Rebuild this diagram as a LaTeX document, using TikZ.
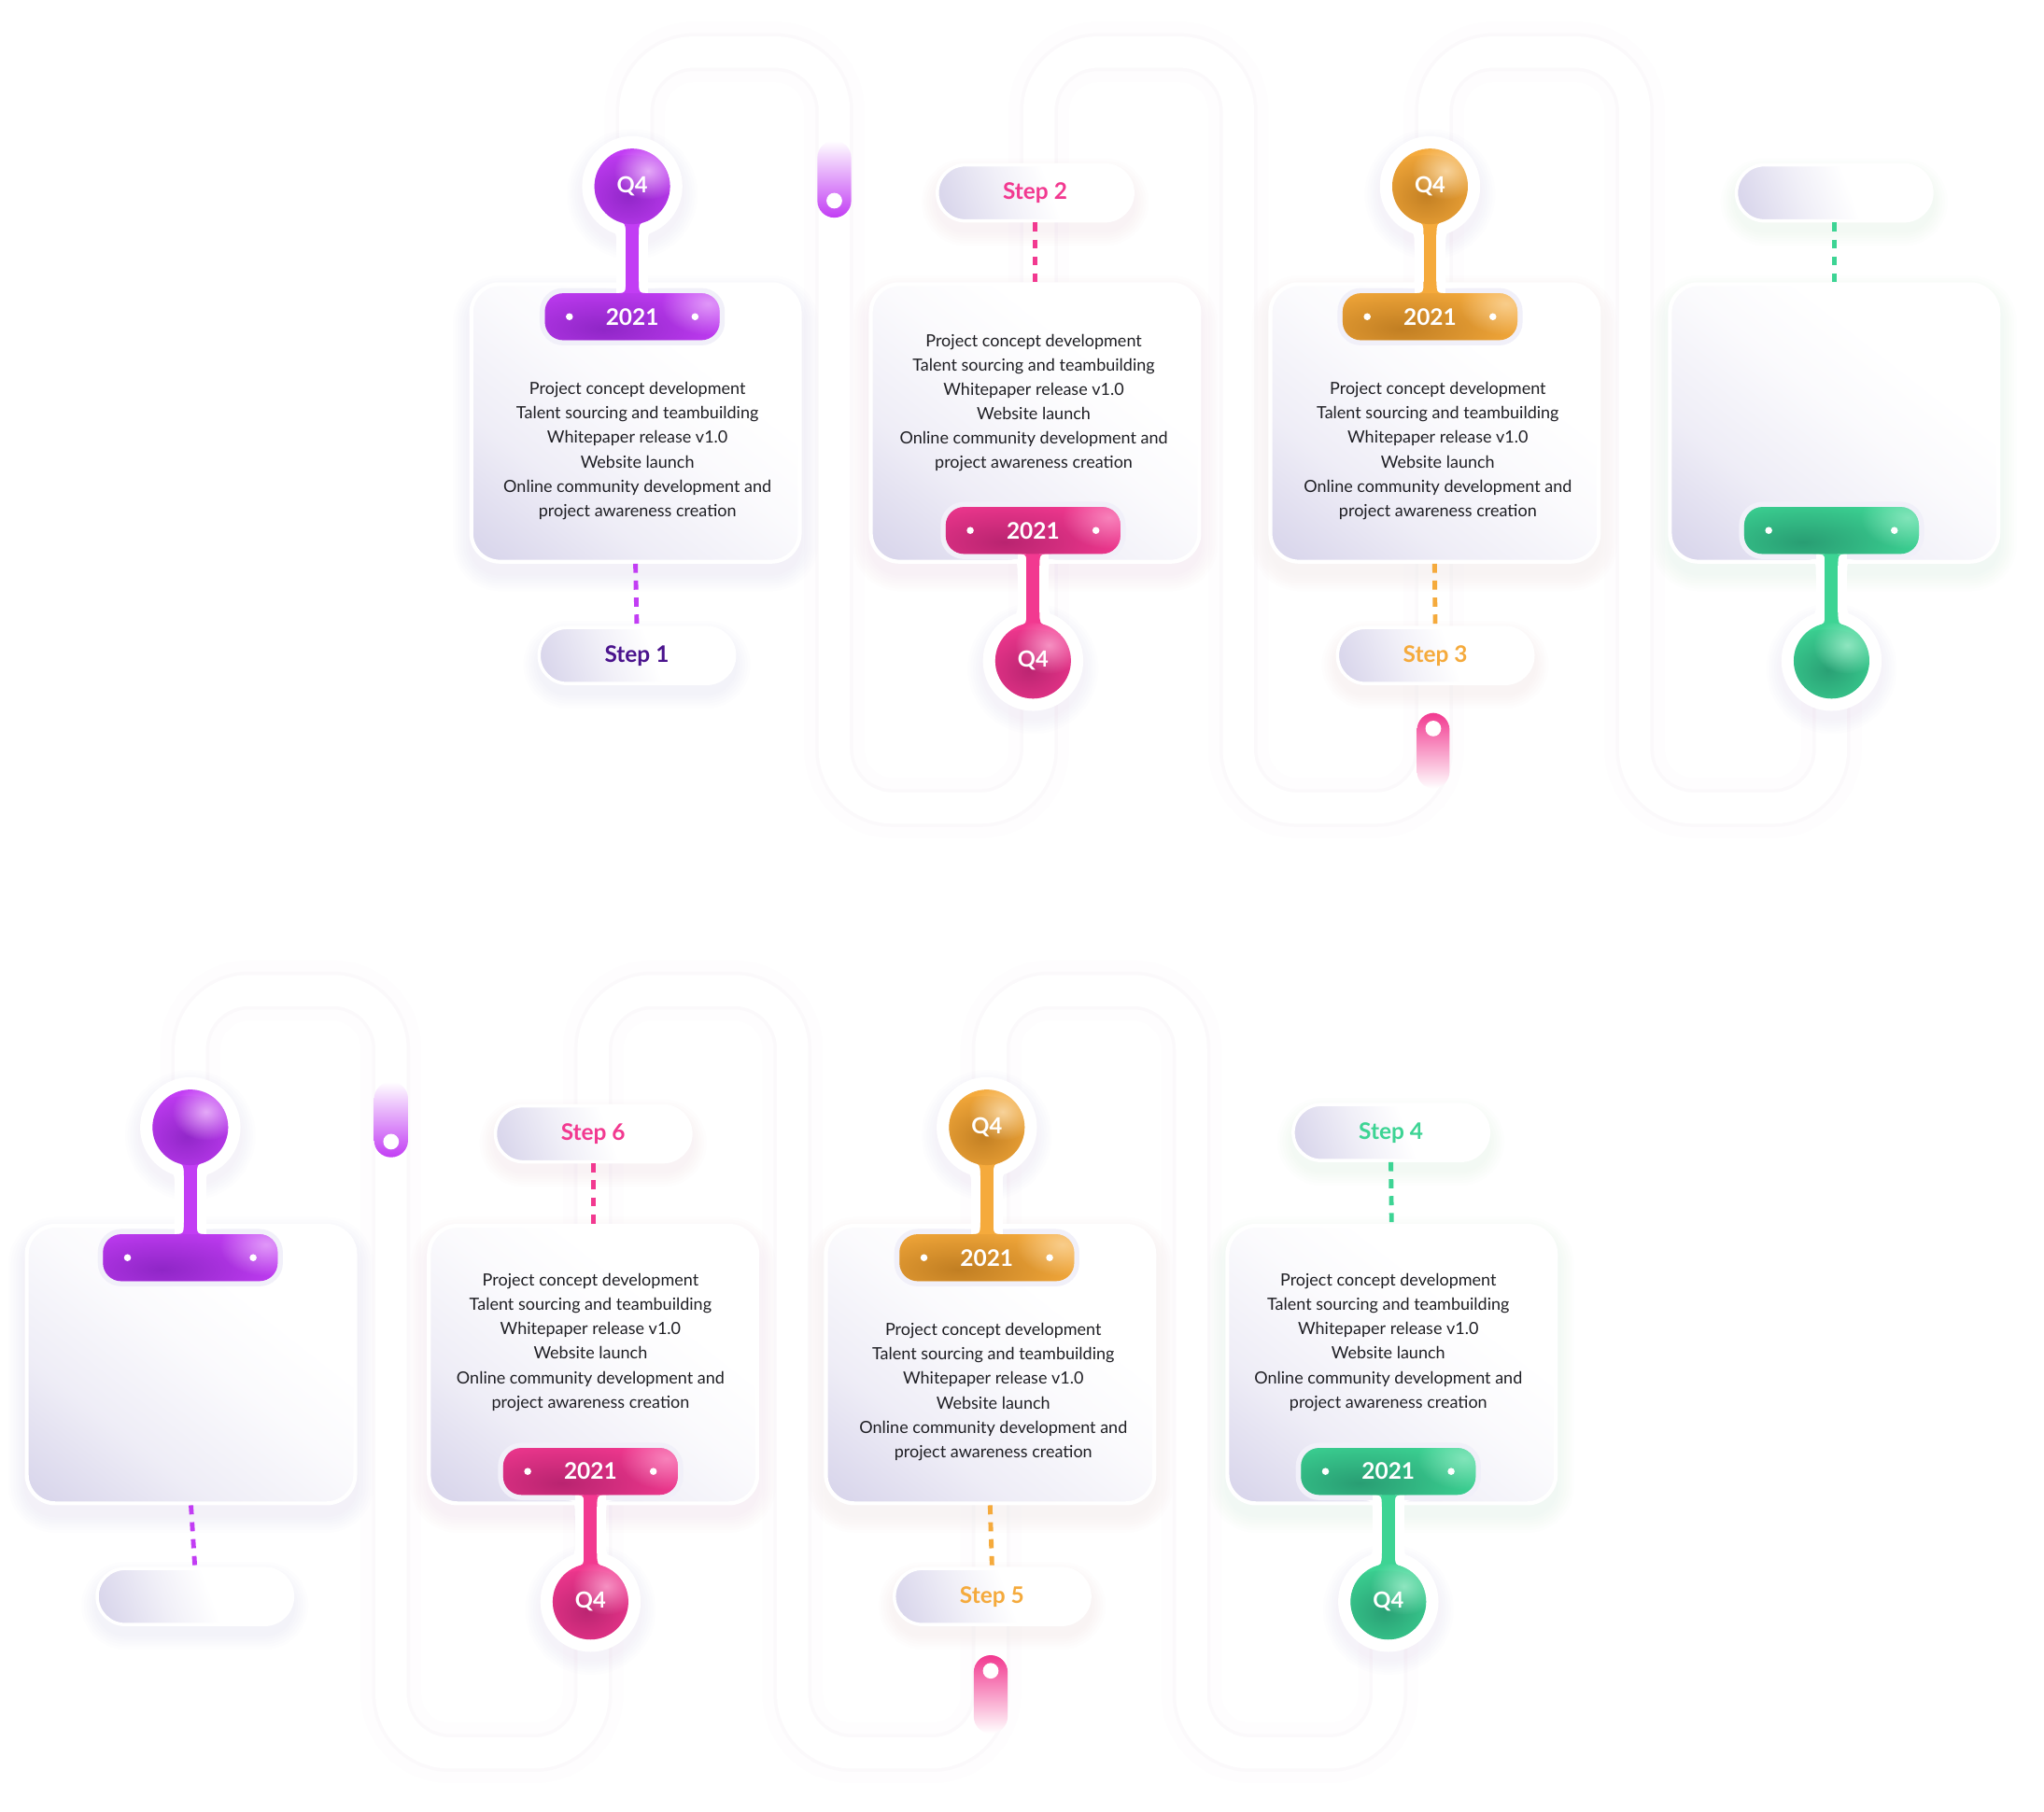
\documentclass[tikz,border=0pt]{standalone}
\usepackage{fontspec}
\setmainfont{Lato}
\usetikzlibrary{calc,fadings}

% palette
\definecolor{pur}{HTML}{C23DF4}
\definecolor{purD}{HTML}{8A24C2}
\definecolor{purL}{HTML}{EAB6FA}
\definecolor{pnk}{HTML}{F23990}
\definecolor{pnkD}{HTML}{B3226D}
\definecolor{pnkL}{HTML}{F99BC9}
\definecolor{org}{HTML}{F5AA3C}
\definecolor{orgD}{HTML}{BC7A20}
\definecolor{orgL}{HTML}{FAD9A6}
\definecolor{grn}{HTML}{3DD494}
\definecolor{grnD}{HTML}{279870}
\definecolor{grnL}{HTML}{98EAC6}
\definecolor{lav}{HTML}{DAD7EC}
\definecolor{ink}{HTML}{1F1F24}
\definecolor{stepink}{HTML}{4A138D}
\definecolor{halo}{HTML}{F1F0F9}
\definecolor{trackedge}{HTML}{FBF9FB}
\definecolor{trackglow}{HTML}{FEFDFE}
\definecolor{trackfill}{HTML}{FFFFFF}
\definecolor{shPur}{HTML}{D9CCE8}
\definecolor{shPnk}{HTML}{EACFDF}
\definecolor{shOrg}{HTML}{E8DCDC}
\definecolor{shGrn}{HTML}{CDE8DC}

% soft round spot used for the glossy shading of knobs and bars
\tikzfading[name=softspot, inner color=transparent!0, outer color=transparent!100]

% white panels that turn lavender towards the lower left corner
\pgfdeclareverticalshading{panelshade}{100bp}{%
  color(0bp)=(lav); color(18bp)=(lav); color(34bp)=(lav!45!white);
  color(52bp)=(lav!12!white); color(65bp)=(white); color(100bp)=(white)}
\pgfdeclareverticalshading{labelshade}{100bp}{%
  color(0bp)=(lav); color(22bp)=(lav); color(40bp)=(lav!40!white);
  color(55bp)=(white); color(100bp)=(white)}

\newcommand{\roadmaptext}{Project concept development\\Talent sourcing and teambuilding\\Whitepaper release v1.0\\Website launch\\Online community development and\\project awareness creation}

% card with soft shadow: name, x, y, shadow colour
\newcommand{\card}[4]{%
  \foreach \k in {1,...,7}{%
    \fill[#4, opacity=.035, rounded corners=22+2*\k]
      ({#2-126-2*\k},{#3-107-2*\k+8}) rectangle ({#2+126+2*\k},{#3+107+2*\k+8});}
  \node[cardbox] (#1) at (#2,#3) {};}

% step label pill: name, x, y, text colour, text, shadow colour
\newcommand{\steppill}[6]{%
  \foreach \k in {1,...,6}{%
    \fill[#6, opacity=.04, rounded corners=21.5+2*\k]
      ({#2-75-2*\k},{#3-21.5-2*\k+7}) rectangle ({#2+75+2*\k},{#3+21.5+2*\k+7});}
  \node[stepbox, text=#4] (#1) at (#2,#3) {#5};}

% knob + stem + bar: name, x, knob y, direction (1 bar below, -1 bar above),
% main, dark, light, knob text, bar text
\newcommand{\pin}[9]{%
  \colorlet{pinA}{#5}\colorlet{pinB}{#6}\colorlet{pinC}{#7}%
  \coordinate (#1-qc) at (#2,#3);
  \coordinate (#1-yc) at ({#2},{#3+(#4)*100});
  % soft shadow
  \foreach \k in {1,...,6}{%
    \fill[shPur, opacity=.03] ({#2},{#3+6}) circle ({38+2*\k});}
  % white halo
  \fill[white] (#1-qc) circle (38.5);
  \fill[halo, rounded corners=18] ({#2-71},{#3+(#4)*100-22}) rectangle ({#2+71},{#3+(#4)*100+22});
  \fill[white] ({#2-12},{#3}) rectangle ({#2+12},{#3+(#4)*88});
  \fill[white] ({#2-22},{#3+(#4)*31.5}) .. controls ({#2-12},{#3+(#4)*35}) .. ({#2-12},{#3+(#4)*46})
     -- ({#2+12},{#3+(#4)*46}) .. controls ({#2+12},{#3+(#4)*35}) .. ({#2+22},{#3+(#4)*31.5}) -- cycle;
  \fill[white] ({#2-24},{#3+(#4)*78}) .. controls ({#2-12},{#3+(#4)*78}) .. ({#2-12},{#3+(#4)*66})
     -- ({#2+12},{#3+(#4)*66}) .. controls ({#2+12},{#3+(#4)*78}) .. ({#2+24},{#3+(#4)*78}) -- cycle;
  % stem
  \draw[line width=10, #5] (#1-qc) -- (#1-yc);
  \fill[#5] ({#2-12},{#3+(#4)*25.8}) .. controls ({#2-5},{#3+(#4)*28.5}) .. ({#2-5},{#3+(#4)*37})
     -- ({#2+5},{#3+(#4)*37}) .. controls ({#2+5},{#3+(#4)*28.5}) .. ({#2+12},{#3+(#4)*25.8}) -- cycle;
  \fill[#5] ({#2-14},{#3+(#4)*82}) .. controls ({#2-5},{#3+(#4)*82}) .. ({#2-5},{#3+(#4)*73})
     -- ({#2+5},{#3+(#4)*73}) .. controls ({#2+5},{#3+(#4)*82}) .. ({#2+14},{#3+(#4)*82}) -- cycle;
  % knob and bar
  \node[pinknob] (#1-q) at (#1-qc) {#8};
  \node[pinbar] (#1-y) at (#1-yc) {#9};
  \fill[white] ($(#1-y.west)+(19,0)$) circle (2.7);
  \fill[white] ($(#1-y.east)+(-19,0)$) circle (2.7);}

\begin{document}
\begin{tikzpicture}[x=1pt,y=-1pt,
  cardbox/.style={rectangle, rounded corners=22, minimum width=252, minimum height=213,
    inner sep=0, draw=white, line width=3, shade, shading=panelshade, shading angle=-38},
  stepbox/.style={rectangle, rounded corners=21.5, minimum width=150, minimum height=43,
    inner sep=0, draw=white, line width=2.5, shade, shading=labelshade, shading angle=-70,
    font=\bfseries\fontsize{17.5}{20}\selectfont},
  cardtext/.style={align=center, text=ink, inner sep=0, font=\fontsize{12.9}{18.7}\selectfont},
  pinknob/.style={circle, minimum size=58, inner sep=0, fill=pinA, text=white,
    font=\bfseries\fontsize{17}{18}\selectfont,
    path picture={
      \fill[pinB, path fading=softspot, fill opacity=.85]
        ([shift={(-3,10)}]path picture bounding box.center) ellipse (46 and 34);
      \fill[pinC, path fading=softspot, fill opacity=.9]
        ([shift={(12,-12)}]path picture bounding box.center) ellipse (26 and 22);}},
  pinbar/.style={rectangle, rounded corners=14, minimum width=134, minimum height=36,
    inner sep=0, fill=pinA, text=white, font=\bfseries\fontsize{17.5}{19}\selectfont,
    path picture={
      \fill[pinB, path fading=softspot, fill opacity=.9]
        ([shift={(-22,9)}]path picture bounding box.center) ellipse (96 and 34);
      \fill[pinC, path fading=softspot, fill opacity=.75]
        ([shift={(58,-10)}]path picture bounding box.center) ellipse (36 and 24);}},
  dotlink/.style={draw=#1, line width=3.5, dash pattern=on 7pt off 6pt},
  trackline/.style={draw=trackedge, line width=2.5, double=trackfill, double distance=24,
    rounded corners=45},
  trackhaze/.style={draw=trackglow, line width=46, rounded corners=45},
]
\useasboundingbox (0,0) rectangle (1568,1390);
\fill[white] (0,0) rectangle (1568,1390);

% ---------- faint serpentine tracks ----------
\draw[trackhaze] (487,143) -- (487,40) -- (640,40) -- (640,620) -- (797,620) -- (797,40)
  -- (950,40) -- (950,620) -- (1100,620) -- (1100,40) -- (1254,40) -- (1254,620)
  -- (1405,620) -- (1405,507);
\draw[trackline] (487,143) -- (487,40) -- (640,40) -- (640,620) -- (797,620) -- (797,40)
  -- (950,40) -- (950,620) -- (1100,620) -- (1100,40) -- (1254,40) -- (1254,620)
  -- (1405,620) -- (1405,507);
\draw[trackhaze] (146,865) -- (146,760) -- (300,760) -- (300,1345) -- (455,1345) -- (455,760)
  -- (608,760) -- (608,1345) -- (760,1345) -- (760,760) -- (914,760) -- (914,1345)
  -- (1065,1345) -- (1065,1229);
\draw[trackline] (146,865) -- (146,760) -- (300,760) -- (300,1345) -- (455,1345) -- (455,760)
  -- (608,760) -- (608,1345) -- (760,1345) -- (760,760) -- (914,760) -- (914,1345)
  -- (1065,1345) -- (1065,1229);

% track end tabs
\shade[top color=white, middle color=pur!45, bottom color=pur, rounded corners=13]
  (627,108) rectangle (653,167);
\fill[white] (640,154) circle (6);
\shade[top color=white, middle color=pur!45, bottom color=pur, rounded corners=13]
  (287,830) rectangle (313,888);
\fill[white] (300,876) circle (6);
\shade[top color=pnk, middle color=pnk!45, bottom color=white, rounded corners=13]
  (1087,547) rectangle (1112,605);
\fill[white] (1099.5,559) circle (6);
\shade[top color=pnk, middle color=pnk!45, bottom color=white, rounded corners=13]
  (747,1270) rectangle (773,1330);
\fill[white] (760,1282) circle (6);

% ---------- upper row ----------
\card{ca1}{487.5}{324.5}{shPur}
\steppill{sa1}{488.5}{503}{stepink}{Step 1}{shPur}
\draw[dotlink=pur] (ca1.south) -- (sa1.north);
\pin{pa1}{485}{143}{1}{pur}{purD}{purL}{Q4}{2021}
\node[cardtext] (ta1) at (489,346) {\roadmaptext};

\card{ca2}{794}{324.5}{shPnk}
\steppill{sa2}{794}{148}{pnk}{Step 2}{shPnk}
\draw[dotlink=pnk] (sa2.south) -- (ca2.north);
\pin{pa2}{792.5}{507}{-1}{pnk}{pnkD}{pnkL}{Q4}{2021}
\node[cardtext] (ta2) at (793,309) {\roadmaptext};

\card{ca3}{1100.5}{324.5}{shOrg}
\steppill{sa3}{1101}{503}{org}{Step 3}{shOrg}
\draw[dotlink=org] (ca3.south) -- (sa3.north);
\pin{pa3}{1097}{143}{1}{org}{orgD}{orgL}{Q4}{2021}
\node[cardtext] (ta3) at (1103,346) {\roadmaptext};

\card{ca4}{1407}{324.5}{shGrn}
\steppill{sa4}{1407}{148}{grn}{}{shGrn}
\draw[dotlink=grn] (sa4.south) -- (ca4.north);
\pin{pa4}{1405}{507}{-1}{grn}{grnD}{grnL}{}{}

% ---------- lower row ----------
\card{cb1}{146.5}{1047}{shPur}
\steppill{sb1}{149.5}{1225}{stepink}{}{shPur}
\draw[dotlink=pur] (cb1.south) -- (sb1.north);
\pin{pb1}{146}{865}{1}{pur}{purD}{purL}{}{}

\card{cb2}{455}{1047}{shPnk}
\steppill{sb2}{455}{870}{pnk}{Step 6}{shPnk}
\draw[dotlink=pnk] (sb2.south) -- (cb2.north);
\pin{pb2}{453}{1229}{-1}{pnk}{pnkD}{pnkL}{Q4}{2021}
\node[cardtext] (tb2) at (453,1030) {\roadmaptext};

\card{cb3}{759.5}{1047}{shOrg}
\steppill{sb3}{761}{1225}{org}{Step 5}{shOrg}
\draw[dotlink=org] (cb3.south) -- (sb3.north);
\pin{pb3}{757}{865}{1}{org}{orgD}{orgL}{Q4}{2021}
\node[cardtext] (tb3) at (762,1068) {\roadmaptext};

\card{cb4}{1067.5}{1047}{shGrn}
\steppill{sb4}{1067}{869}{grn}{Step 4}{shGrn}
\draw[dotlink=grn] (sb4.south) -- (cb4.north);
\pin{pb4}{1065}{1229}{-1}{grn}{grnD}{grnL}{Q4}{2021}
\node[cardtext] (tb4) at (1065,1030) {\roadmaptext};
\end{tikzpicture}
\end{document}
